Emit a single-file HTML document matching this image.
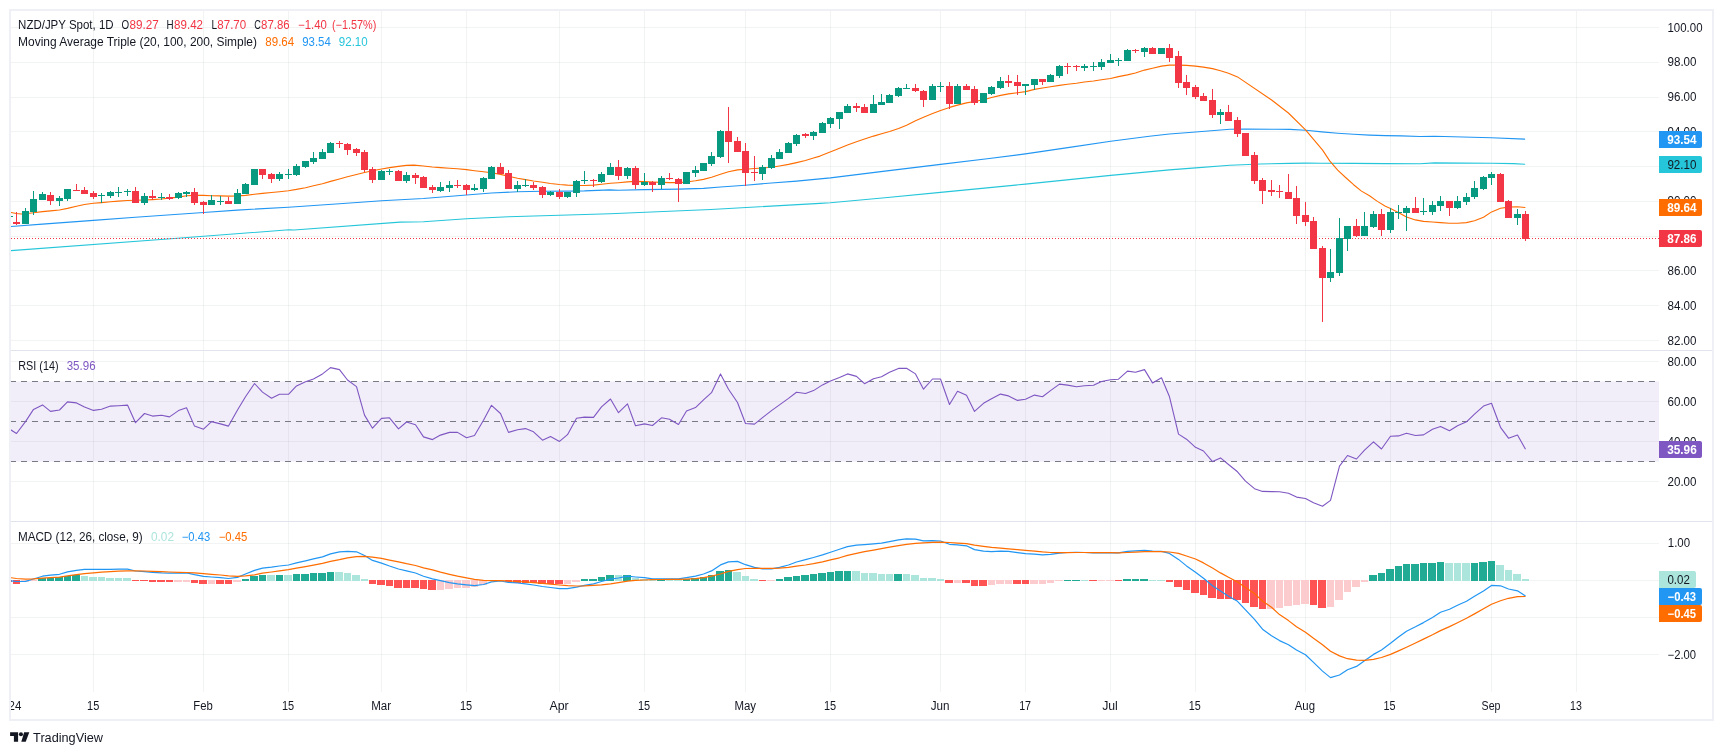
<!DOCTYPE html>
<html lang="en"><head><meta charset="utf-8"><title>NZD/JPY chart</title><style>html,body{margin:0;padding:0;background:#fff;overflow:hidden}svg{display:block;will-change:transform}</style></head><body>
<svg width="1723" height="755" viewBox="0 0 1723 755" font-family="Liberation Sans, Arial, sans-serif" font-size="12">
<rect width="1723" height="755" fill="#fff"/>
<rect x="10" y="10" width="1703" height="710" fill="none" stroke="#eef0f6" stroke-width="2"/>
<g fill="rgba(42,46,57,0.06)" shape-rendering="crispEdges">
<rect x="93" y="11" width="1" height="681"/>
<rect x="203" y="11" width="1" height="681"/>
<rect x="288" y="11" width="1" height="681"/>
<rect x="381" y="11" width="1" height="681"/>
<rect x="466" y="11" width="1" height="681"/>
<rect x="559" y="11" width="1" height="681"/>
<rect x="644" y="11" width="1" height="681"/>
<rect x="745" y="11" width="1" height="681"/>
<rect x="830" y="11" width="1" height="681"/>
<rect x="940" y="11" width="1" height="681"/>
<rect x="1025" y="11" width="1" height="681"/>
<rect x="1110" y="11" width="1" height="681"/>
<rect x="1195" y="11" width="1" height="681"/>
<rect x="1305" y="11" width="1" height="681"/>
<rect x="1390" y="11" width="1" height="681"/>
<rect x="1491" y="11" width="1" height="681"/>
<rect x="1576" y="11" width="1" height="681"/>
<rect x="11" y="27" width="1648" height="1"/>
<rect x="11" y="62" width="1648" height="1"/>
<rect x="11" y="97" width="1648" height="1"/>
<rect x="11" y="131" width="1648" height="1"/>
<rect x="11" y="166" width="1648" height="1"/>
<rect x="11" y="201" width="1648" height="1"/>
<rect x="11" y="236" width="1648" height="1"/>
<rect x="11" y="270" width="1648" height="1"/>
<rect x="11" y="305" width="1648" height="1"/>
<rect x="11" y="340" width="1648" height="1"/>
<rect x="11" y="361" width="1648" height="1"/>
<rect x="11" y="401" width="1648" height="1"/>
<rect x="11" y="441" width="1648" height="1"/>
<rect x="11" y="481" width="1648" height="1"/>
<rect x="11" y="543" width="1648" height="1"/>
<rect x="11" y="580" width="1648" height="1"/>
<rect x="11" y="617" width="1648" height="1"/>
<rect x="11" y="654" width="1648" height="1"/>
</g>
<g fill="#e0e3eb" shape-rendering="crispEdges"><rect x="11" y="350" width="1701" height="1"/><rect x="11" y="521" width="1701" height="1"/></g>
<defs><clipPath id="cp"><rect x="11" y="11" width="1648" height="681"/></clipPath></defs>
<g clip-path="url(#cp)">
<polyline points="10.4,250.7 174.1,238.5 289.0,229.8 294.1,230.0 400.0,222.1 423.4,221.7 466.5,218.8 508.4,216.8 559.5,215.2 610.0,213.7 710.9,209.5 820.0,203.4 830.4,202.8 884.9,197.8 940.5,192.4 1025.4,184.1 1110.7,175.4 1169.4,169.9 1195.6,167.9 1230.0,165.2 1260.7,164.0 1290.0,163.4 1305.9,163.1 1321.8,163.2 1353.6,163.4 1385.4,163.6 1420.0,163.7 1434.4,162.9 1491.3,163.2 1513.6,163.6 1524.7,164.3" fill="none" stroke="#26c6da" stroke-width="1.1" stroke-linejoin="round" stroke-linecap="round"/>
<polyline points="10.1,226.5 42.4,224.1 93.4,220.4 135.4,217.2 178.3,214.2 203.5,212.5 237.4,210.1 288.4,207.2 339.4,203.7 381.6,200.8 423.4,198.5 466.5,195.0 491.5,193.0 517.5,191.8 542.5,191.3 567.4,191.1 584.5,190.9 610.0,189.9 618.4,190.3 644.6,189.6 678.6,189.1 703.5,188.4 720.5,187.0 745.4,185.2 771.5,183.0 796.6,181.1 830.4,177.9 884.9,171.1 940.5,164.4 987.2,158.7 1025.4,153.9 1069.5,147.4 1110.7,141.2 1149.4,136.2 1169.4,134.0 1195.6,132.0 1230.0,129.2 1245.5,129.0 1276.0,129.3 1290.0,129.4 1305.9,130.3 1321.8,131.9 1337.7,133.2 1353.6,134.3 1369.5,135.1 1385.4,135.6 1401.3,135.9 1420.0,136.5 1434.4,136.2 1491.3,137.7 1524.7,139.1" fill="none" stroke="#2196f3" stroke-width="1.1" stroke-linejoin="round" stroke-linecap="round"/>
<polyline points="10.1,212.4 16.4,213.5 21.2,214.0 25.4,213.8 33.6,212.7 42.5,211.6 50.5,210.9 59.4,210.0 67.5,208.4 76.5,206.2 84.4,204.5 93.4,203.2 101.5,202.6 110.5,201.8 118.4,201.1 127.4,200.5 135.4,200.3 144.4,200.0 152.5,199.6 161.4,199.0 169.4,198.1 178.3,197.1 186.6,195.7 194.4,195.4 203.5,195.4 211.5,195.7 220.3,195.9 228.5,196.1 237.4,195.9 245.6,195.4 254.5,194.3 262.5,193.4 271.5,192.5 279.5,191.7 288.4,190.7 296.4,189.4 305.5,187.7 313.5,185.8 322.4,183.7 330.6,181.4 339.4,179.0 347.4,176.7 356.5,174.5 364.5,172.5 372.5,170.7 381.6,169.0 389.6,167.6 398.4,166.4 406.4,165.4 414.0,165.1 423.4,166.0 432.3,167.0 440.5,167.6 449.4,168.2 457.4,168.7 466.5,169.6 474.5,170.7 483.5,171.8 491.5,172.8 500.5,174.4 508.4,176.3 517.5,178.3 525.5,179.6 533.5,181.0 542.5,182.3 550.5,183.5 559.5,184.5 567.4,185.1 576.5,185.5 584.5,185.5 593.6,185.1 601.6,184.3 610.4,183.3 618.4,182.7 627.4,181.9 635.4,181.4 644.6,181.6 652.5,182.0 661.5,182.4 669.5,182.6 678.6,182.6 686.4,182.0 695.5,180.8 703.5,179.4 711.6,177.2 720.5,174.3 728.5,171.7 737.6,169.9 745.4,169.2 754.6,168.5 762.5,168.0 771.5,167.3 779.5,166.0 788.5,164.4 796.6,162.6 805.4,160.5 813.5,158.0 820.0,156.1 836.4,149.5 847.5,144.9 856.5,141.7 864.5,139.1 873.6,136.1 881.6,133.7 889.6,131.5 898.6,128.6 906.6,125.2 915.5,120.8 923.5,117.2 932.6,113.6 940.6,110.4 949.5,107.4 957.5,105.1 966.5,102.9 974.5,101.5 983.5,99.7 991.6,97.5 1000.6,95.4 1008.6,93.9 1017.5,92.7 1025.6,91.6 1034.5,89.4 1042.5,88.0 1050.5,86.8 1059.5,85.4 1067.5,84.3 1076.4,83.2 1084.4,82.0 1093.5,81.0 1101.5,79.8 1110.5,78.5 1118.5,76.6 1127.4,74.9 1135.4,73.0 1144.5,70.1 1152.5,68.2 1161.5,66.1 1169.5,65.1 1178.5,65.1 1186.5,65.4 1195.4,66.1 1203.4,67.1 1212.5,68.6 1220.5,70.8 1228.5,73.3 1237.5,76.9 1271.6,100.0 1288.4,113.0 1305.3,129.7 1322.6,150.1 1329.7,160.9 1337.7,170.1 1345.6,177.5 1353.6,184.7 1361.5,191.1 1369.5,195.8 1377.4,201.4 1385.4,206.2 1390.0,208.3 1398.3,212.5 1406.5,217.0 1415.4,219.9 1423.5,221.4 1432.4,222.0 1440.4,222.6 1449.4,223.2 1457.5,223.3 1466.4,222.6 1474.5,220.8 1483.5,217.2 1491.6,211.9 1500.5,208.3 1508.5,207.1 1517.5,206.7 1525.0,207.5" fill="none" stroke="#ff6d00" stroke-width="1.1" stroke-linejoin="round" stroke-linecap="round"/>
<line x1="11" y1="238.5" x2="1659" y2="238.5" stroke="#f23645" stroke-width="1" stroke-dasharray="1 2"/>
<g shape-rendering="crispEdges">
<rect x="11" y="216" width="2" height="1" fill="#089981"/>
<rect x="16" y="212" width="1" height="13" fill="#f23645"/>
<rect x="13" y="222" width="7" height="2" fill="#f23645"/>
<rect x="25" y="208" width="1" height="16" fill="#089981"/>
<rect x="22" y="211" width="7" height="13" fill="#089981"/>
<rect x="33" y="191" width="1" height="24" fill="#089981"/>
<rect x="30" y="199" width="7" height="13" fill="#089981"/>
<rect x="42" y="192" width="1" height="8" fill="#089981"/>
<rect x="39" y="194" width="7" height="6" fill="#089981"/>
<rect x="50" y="192" width="1" height="13" fill="#f23645"/>
<rect x="47" y="195" width="7" height="6" fill="#f23645"/>
<rect x="59" y="196" width="1" height="10" fill="#089981"/>
<rect x="56" y="198" width="7" height="3" fill="#089981"/>
<rect x="67" y="189" width="1" height="12" fill="#089981"/>
<rect x="64" y="189" width="7" height="10" fill="#089981"/>
<rect x="76" y="184" width="1" height="7" fill="#f23645"/>
<rect x="73" y="190" width="7" height="1" fill="#f23645"/>
<rect x="84" y="187" width="1" height="7" fill="#f23645"/>
<rect x="81" y="190" width="7" height="4" fill="#f23645"/>
<rect x="93" y="191" width="1" height="8" fill="#f23645"/>
<rect x="90" y="193" width="7" height="4" fill="#f23645"/>
<rect x="101" y="193" width="1" height="10" fill="#089981"/>
<rect x="98" y="195" width="7" height="1" fill="#089981"/>
<rect x="110" y="191" width="1" height="7" fill="#089981"/>
<rect x="107" y="192" width="7" height="4" fill="#089981"/>
<rect x="118" y="187" width="1" height="10" fill="#089981"/>
<rect x="115" y="192" width="7" height="1" fill="#089981"/>
<rect x="127" y="189" width="1" height="7" fill="#089981"/>
<rect x="124" y="191" width="7" height="1" fill="#089981"/>
<rect x="135" y="187" width="1" height="16" fill="#f23645"/>
<rect x="132" y="191" width="7" height="12" fill="#f23645"/>
<rect x="144" y="193" width="1" height="12" fill="#089981"/>
<rect x="141" y="196" width="7" height="7" fill="#089981"/>
<rect x="152" y="190" width="1" height="10" fill="#f23645"/>
<rect x="149" y="196" width="7" height="2" fill="#f23645"/>
<rect x="161" y="193" width="1" height="7" fill="#089981"/>
<rect x="158" y="197" width="7" height="1" fill="#089981"/>
<rect x="169" y="194" width="1" height="6" fill="#f23645"/>
<rect x="166" y="197" width="7" height="2" fill="#f23645"/>
<rect x="178" y="192" width="1" height="7" fill="#089981"/>
<rect x="175" y="193" width="7" height="5" fill="#089981"/>
<rect x="186" y="191" width="1" height="6" fill="#089981"/>
<rect x="183" y="192" width="7" height="2" fill="#089981"/>
<rect x="194" y="188" width="1" height="17" fill="#f23645"/>
<rect x="191" y="192" width="7" height="11" fill="#f23645"/>
<rect x="203" y="201" width="1" height="13" fill="#f23645"/>
<rect x="200" y="202" width="7" height="3" fill="#f23645"/>
<rect x="211" y="195" width="1" height="10" fill="#089981"/>
<rect x="208" y="200" width="7" height="5" fill="#089981"/>
<rect x="220" y="196" width="1" height="9" fill="#089981"/>
<rect x="217" y="201" width="7" height="1" fill="#089981"/>
<rect x="228" y="197" width="1" height="7" fill="#f23645"/>
<rect x="225" y="201" width="7" height="3" fill="#f23645"/>
<rect x="237" y="189" width="1" height="15" fill="#089981"/>
<rect x="234" y="193" width="7" height="11" fill="#089981"/>
<rect x="245" y="183" width="1" height="11" fill="#089981"/>
<rect x="242" y="184" width="7" height="10" fill="#089981"/>
<rect x="251" y="169" width="7" height="16" fill="#089981"/>
<rect x="262" y="169" width="1" height="10" fill="#f23645"/>
<rect x="259" y="169" width="7" height="6" fill="#f23645"/>
<rect x="271" y="173" width="1" height="10" fill="#f23645"/>
<rect x="268" y="174" width="7" height="5" fill="#f23645"/>
<rect x="279" y="172" width="1" height="9" fill="#089981"/>
<rect x="276" y="174" width="7" height="5" fill="#089981"/>
<rect x="288" y="169" width="1" height="10" fill="#089981"/>
<rect x="285" y="174" width="7" height="1" fill="#089981"/>
<rect x="296" y="164" width="1" height="12" fill="#089981"/>
<rect x="293" y="166" width="7" height="9" fill="#089981"/>
<rect x="305" y="161" width="1" height="7" fill="#089981"/>
<rect x="302" y="161" width="7" height="6" fill="#089981"/>
<rect x="313" y="152" width="1" height="12" fill="#089981"/>
<rect x="310" y="158" width="7" height="4" fill="#089981"/>
<rect x="322" y="149" width="1" height="10" fill="#089981"/>
<rect x="319" y="152" width="7" height="7" fill="#089981"/>
<rect x="330" y="142" width="1" height="11" fill="#089981"/>
<rect x="327" y="143" width="7" height="10" fill="#089981"/>
<rect x="339" y="141" width="1" height="7" fill="#f23645"/>
<rect x="336" y="143" width="7" height="1" fill="#f23645"/>
<rect x="347" y="143" width="1" height="12" fill="#f23645"/>
<rect x="344" y="144" width="7" height="6" fill="#f23645"/>
<rect x="356" y="148" width="1" height="8" fill="#f23645"/>
<rect x="353" y="149" width="7" height="4" fill="#f23645"/>
<rect x="364" y="150" width="1" height="22" fill="#f23645"/>
<rect x="361" y="152" width="7" height="18" fill="#f23645"/>
<rect x="372" y="167" width="1" height="16" fill="#f23645"/>
<rect x="369" y="169" width="7" height="11" fill="#f23645"/>
<rect x="381" y="170" width="1" height="10" fill="#089981"/>
<rect x="378" y="171" width="7" height="9" fill="#089981"/>
<rect x="389" y="169" width="1" height="6" fill="#089981"/>
<rect x="386" y="171" width="7" height="1" fill="#089981"/>
<rect x="398" y="170" width="1" height="11" fill="#f23645"/>
<rect x="395" y="171" width="7" height="10" fill="#f23645"/>
<rect x="406" y="172" width="1" height="11" fill="#089981"/>
<rect x="403" y="175" width="7" height="6" fill="#089981"/>
<rect x="415" y="173" width="1" height="11" fill="#f23645"/>
<rect x="412" y="175" width="7" height="3" fill="#f23645"/>
<rect x="423" y="176" width="1" height="12" fill="#f23645"/>
<rect x="420" y="177" width="7" height="11" fill="#f23645"/>
<rect x="432" y="185" width="1" height="8" fill="#f23645"/>
<rect x="429" y="187" width="7" height="3" fill="#f23645"/>
<rect x="440" y="182" width="1" height="10" fill="#089981"/>
<rect x="437" y="187" width="7" height="4" fill="#089981"/>
<rect x="449" y="181" width="1" height="11" fill="#089981"/>
<rect x="446" y="185" width="7" height="3" fill="#089981"/>
<rect x="457" y="180" width="1" height="8" fill="#f23645"/>
<rect x="454" y="185" width="7" height="1" fill="#f23645"/>
<rect x="466" y="184" width="1" height="11" fill="#f23645"/>
<rect x="463" y="185" width="7" height="5" fill="#f23645"/>
<rect x="474" y="184" width="1" height="7" fill="#089981"/>
<rect x="471" y="188" width="7" height="2" fill="#089981"/>
<rect x="483" y="177" width="1" height="15" fill="#089981"/>
<rect x="480" y="178" width="7" height="11" fill="#089981"/>
<rect x="491" y="166" width="1" height="13" fill="#089981"/>
<rect x="488" y="167" width="7" height="12" fill="#089981"/>
<rect x="500" y="163" width="1" height="11" fill="#f23645"/>
<rect x="497" y="167" width="7" height="7" fill="#f23645"/>
<rect x="508" y="170" width="1" height="19" fill="#f23645"/>
<rect x="505" y="173" width="7" height="16" fill="#f23645"/>
<rect x="517" y="181" width="1" height="11" fill="#089981"/>
<rect x="514" y="185" width="7" height="4" fill="#089981"/>
<rect x="525" y="179" width="1" height="8" fill="#089981"/>
<rect x="522" y="185" width="7" height="1" fill="#089981"/>
<rect x="533" y="182" width="1" height="8" fill="#f23645"/>
<rect x="530" y="185" width="7" height="3" fill="#f23645"/>
<rect x="542" y="186" width="1" height="12" fill="#f23645"/>
<rect x="539" y="187" width="7" height="8" fill="#f23645"/>
<rect x="550" y="191" width="1" height="5" fill="#089981"/>
<rect x="547" y="192" width="7" height="3" fill="#089981"/>
<rect x="559" y="189" width="1" height="10" fill="#f23645"/>
<rect x="556" y="192" width="7" height="5" fill="#f23645"/>
<rect x="567" y="192" width="1" height="6" fill="#089981"/>
<rect x="564" y="192" width="7" height="5" fill="#089981"/>
<rect x="576" y="180" width="1" height="17" fill="#089981"/>
<rect x="573" y="181" width="7" height="12" fill="#089981"/>
<rect x="584" y="171" width="1" height="13" fill="#089981"/>
<rect x="581" y="180" width="7" height="1" fill="#089981"/>
<rect x="593" y="179" width="1" height="8" fill="#f23645"/>
<rect x="590" y="180" width="7" height="1" fill="#f23645"/>
<rect x="601" y="172" width="1" height="11" fill="#089981"/>
<rect x="598" y="174" width="7" height="8" fill="#089981"/>
<rect x="610" y="163" width="1" height="12" fill="#089981"/>
<rect x="607" y="167" width="7" height="8" fill="#089981"/>
<rect x="618" y="160" width="1" height="20" fill="#f23645"/>
<rect x="615" y="167" width="7" height="9" fill="#f23645"/>
<rect x="627" y="167" width="1" height="12" fill="#089981"/>
<rect x="624" y="168" width="7" height="8" fill="#089981"/>
<rect x="635" y="166" width="1" height="23" fill="#f23645"/>
<rect x="632" y="168" width="7" height="17" fill="#f23645"/>
<rect x="644" y="173" width="1" height="13" fill="#089981"/>
<rect x="641" y="182" width="7" height="3" fill="#089981"/>
<rect x="652" y="181" width="1" height="11" fill="#f23645"/>
<rect x="649" y="182" width="7" height="3" fill="#f23645"/>
<rect x="661" y="176" width="1" height="13" fill="#089981"/>
<rect x="658" y="178" width="7" height="7" fill="#089981"/>
<rect x="669" y="173" width="1" height="7" fill="#f23645"/>
<rect x="666" y="178" width="7" height="1" fill="#f23645"/>
<rect x="678" y="178" width="1" height="24" fill="#f23645"/>
<rect x="675" y="179" width="7" height="5" fill="#f23645"/>
<rect x="683" y="172" width="7" height="12" fill="#089981"/>
<rect x="695" y="166" width="1" height="11" fill="#089981"/>
<rect x="692" y="170" width="7" height="3" fill="#089981"/>
<rect x="700" y="163" width="7" height="8" fill="#089981"/>
<rect x="711" y="152" width="1" height="14" fill="#089981"/>
<rect x="708" y="156" width="7" height="8" fill="#089981"/>
<rect x="720" y="130" width="1" height="28" fill="#089981"/>
<rect x="717" y="131" width="7" height="26" fill="#089981"/>
<rect x="728" y="107" width="1" height="56" fill="#f23645"/>
<rect x="725" y="131" width="7" height="11" fill="#f23645"/>
<rect x="737" y="137" width="1" height="15" fill="#f23645"/>
<rect x="734" y="141" width="7" height="11" fill="#f23645"/>
<rect x="745" y="143" width="1" height="43" fill="#f23645"/>
<rect x="742" y="151" width="7" height="22" fill="#f23645"/>
<rect x="754" y="156" width="1" height="25" fill="#f23645"/>
<rect x="751" y="172" width="7" height="1" fill="#f23645"/>
<rect x="762" y="165" width="1" height="15" fill="#089981"/>
<rect x="759" y="167" width="7" height="7" fill="#089981"/>
<rect x="771" y="155" width="1" height="14" fill="#089981"/>
<rect x="768" y="158" width="7" height="10" fill="#089981"/>
<rect x="779" y="149" width="1" height="10" fill="#089981"/>
<rect x="776" y="152" width="7" height="7" fill="#089981"/>
<rect x="788" y="142" width="1" height="11" fill="#089981"/>
<rect x="785" y="143" width="7" height="10" fill="#089981"/>
<rect x="796" y="134" width="1" height="12" fill="#089981"/>
<rect x="793" y="135" width="7" height="9" fill="#089981"/>
<rect x="805" y="133" width="1" height="5" fill="#f23645"/>
<rect x="802" y="134" width="7" height="2" fill="#f23645"/>
<rect x="813" y="131" width="1" height="9" fill="#089981"/>
<rect x="810" y="132" width="7" height="4" fill="#089981"/>
<rect x="822" y="122" width="1" height="11" fill="#089981"/>
<rect x="819" y="123" width="7" height="10" fill="#089981"/>
<rect x="830" y="117" width="1" height="11" fill="#089981"/>
<rect x="827" y="118" width="7" height="6" fill="#089981"/>
<rect x="839" y="112" width="1" height="17" fill="#089981"/>
<rect x="836" y="112" width="7" height="7" fill="#089981"/>
<rect x="847" y="104" width="1" height="9" fill="#089981"/>
<rect x="844" y="106" width="7" height="7" fill="#089981"/>
<rect x="856" y="103" width="1" height="9" fill="#f23645"/>
<rect x="853" y="106" width="7" height="2" fill="#f23645"/>
<rect x="864" y="104" width="1" height="9" fill="#f23645"/>
<rect x="861" y="107" width="7" height="6" fill="#f23645"/>
<rect x="873" y="95" width="1" height="18" fill="#089981"/>
<rect x="870" y="104" width="7" height="9" fill="#089981"/>
<rect x="881" y="94" width="1" height="11" fill="#089981"/>
<rect x="878" y="102" width="7" height="3" fill="#089981"/>
<rect x="889" y="94" width="1" height="9" fill="#089981"/>
<rect x="886" y="95" width="7" height="8" fill="#089981"/>
<rect x="898" y="87" width="1" height="10" fill="#089981"/>
<rect x="895" y="88" width="7" height="8" fill="#089981"/>
<rect x="906" y="84" width="1" height="5" fill="#089981"/>
<rect x="903" y="88" width="7" height="1" fill="#089981"/>
<rect x="915" y="84" width="1" height="8" fill="#f23645"/>
<rect x="912" y="88" width="7" height="3" fill="#f23645"/>
<rect x="923" y="90" width="1" height="17" fill="#f23645"/>
<rect x="920" y="91" width="7" height="9" fill="#f23645"/>
<rect x="932" y="84" width="1" height="16" fill="#089981"/>
<rect x="929" y="86" width="7" height="14" fill="#089981"/>
<rect x="940" y="82" width="1" height="10" fill="#089981"/>
<rect x="937" y="86" width="7" height="1" fill="#089981"/>
<rect x="949" y="82" width="1" height="27" fill="#f23645"/>
<rect x="946" y="86" width="7" height="18" fill="#f23645"/>
<rect x="957" y="84" width="1" height="20" fill="#089981"/>
<rect x="954" y="86" width="7" height="18" fill="#089981"/>
<rect x="966" y="84" width="1" height="6" fill="#f23645"/>
<rect x="963" y="86" width="7" height="4" fill="#f23645"/>
<rect x="974" y="86" width="1" height="19" fill="#f23645"/>
<rect x="971" y="89" width="7" height="14" fill="#f23645"/>
<rect x="980" y="93" width="7" height="10" fill="#089981"/>
<rect x="991" y="86" width="1" height="9" fill="#089981"/>
<rect x="988" y="87" width="7" height="7" fill="#089981"/>
<rect x="1000" y="77" width="1" height="12" fill="#089981"/>
<rect x="997" y="81" width="7" height="7" fill="#089981"/>
<rect x="1008" y="75" width="1" height="12" fill="#f23645"/>
<rect x="1005" y="81" width="7" height="2" fill="#f23645"/>
<rect x="1017" y="75" width="1" height="20" fill="#f23645"/>
<rect x="1014" y="82" width="7" height="4" fill="#f23645"/>
<rect x="1025" y="84" width="1" height="11" fill="#089981"/>
<rect x="1022" y="84" width="7" height="2" fill="#089981"/>
<rect x="1034" y="79" width="1" height="11" fill="#089981"/>
<rect x="1031" y="79" width="7" height="6" fill="#089981"/>
<rect x="1042" y="79" width="1" height="6" fill="#f23645"/>
<rect x="1039" y="79" width="7" height="3" fill="#f23645"/>
<rect x="1050" y="74" width="1" height="8" fill="#089981"/>
<rect x="1047" y="75" width="7" height="7" fill="#089981"/>
<rect x="1059" y="65" width="1" height="13" fill="#089981"/>
<rect x="1056" y="66" width="7" height="10" fill="#089981"/>
<rect x="1067" y="63" width="1" height="11" fill="#f23645"/>
<rect x="1064" y="66" width="7" height="1" fill="#f23645"/>
<rect x="1076" y="65" width="1" height="6" fill="#f23645"/>
<rect x="1073" y="66" width="7" height="1" fill="#f23645"/>
<rect x="1084" y="64" width="1" height="7" fill="#089981"/>
<rect x="1081" y="66" width="7" height="2" fill="#089981"/>
<rect x="1093" y="62" width="1" height="9" fill="#089981"/>
<rect x="1090" y="66" width="7" height="1" fill="#089981"/>
<rect x="1101" y="59" width="1" height="11" fill="#089981"/>
<rect x="1098" y="62" width="7" height="5" fill="#089981"/>
<rect x="1110" y="54" width="1" height="9" fill="#089981"/>
<rect x="1107" y="60" width="7" height="3" fill="#089981"/>
<rect x="1118" y="58" width="1" height="8" fill="#089981"/>
<rect x="1115" y="60" width="7" height="1" fill="#089981"/>
<rect x="1127" y="49" width="1" height="12" fill="#089981"/>
<rect x="1124" y="50" width="7" height="11" fill="#089981"/>
<rect x="1135" y="49" width="1" height="4" fill="#f23645"/>
<rect x="1132" y="50" width="7" height="1" fill="#f23645"/>
<rect x="1144" y="47" width="1" height="10" fill="#089981"/>
<rect x="1141" y="48" width="7" height="4" fill="#089981"/>
<rect x="1152" y="47" width="1" height="7" fill="#f23645"/>
<rect x="1149" y="48" width="7" height="6" fill="#f23645"/>
<rect x="1158" y="48" width="7" height="6" fill="#089981"/>
<rect x="1169" y="44" width="1" height="18" fill="#f23645"/>
<rect x="1166" y="48" width="7" height="10" fill="#f23645"/>
<rect x="1178" y="51" width="1" height="37" fill="#f23645"/>
<rect x="1175" y="56" width="7" height="27" fill="#f23645"/>
<rect x="1186" y="75" width="1" height="20" fill="#f23645"/>
<rect x="1183" y="82" width="7" height="6" fill="#f23645"/>
<rect x="1195" y="85" width="1" height="14" fill="#f23645"/>
<rect x="1192" y="87" width="7" height="10" fill="#f23645"/>
<rect x="1203" y="93" width="1" height="8" fill="#f23645"/>
<rect x="1200" y="96" width="7" height="5" fill="#f23645"/>
<rect x="1212" y="89" width="1" height="29" fill="#f23645"/>
<rect x="1209" y="100" width="7" height="15" fill="#f23645"/>
<rect x="1220" y="109" width="1" height="15" fill="#089981"/>
<rect x="1217" y="112" width="7" height="3" fill="#089981"/>
<rect x="1228" y="105" width="1" height="16" fill="#f23645"/>
<rect x="1225" y="112" width="7" height="9" fill="#f23645"/>
<rect x="1237" y="117" width="1" height="20" fill="#f23645"/>
<rect x="1234" y="120" width="7" height="14" fill="#f23645"/>
<rect x="1242" y="133" width="7" height="23" fill="#f23645"/>
<rect x="1254" y="152" width="1" height="32" fill="#f23645"/>
<rect x="1251" y="155" width="7" height="26" fill="#f23645"/>
<rect x="1262" y="178" width="1" height="26" fill="#f23645"/>
<rect x="1259" y="180" width="7" height="11" fill="#f23645"/>
<rect x="1271" y="180" width="1" height="16" fill="#f23645"/>
<rect x="1268" y="190" width="7" height="2" fill="#f23645"/>
<rect x="1279" y="185" width="1" height="13" fill="#f23645"/>
<rect x="1276" y="191" width="7" height="1" fill="#f23645"/>
<rect x="1288" y="174" width="1" height="25" fill="#f23645"/>
<rect x="1285" y="192" width="7" height="7" fill="#f23645"/>
<rect x="1296" y="186" width="1" height="38" fill="#f23645"/>
<rect x="1293" y="198" width="7" height="18" fill="#f23645"/>
<rect x="1305" y="202" width="1" height="24" fill="#f23645"/>
<rect x="1302" y="215" width="7" height="7" fill="#f23645"/>
<rect x="1313" y="217" width="1" height="32" fill="#f23645"/>
<rect x="1310" y="221" width="7" height="28" fill="#f23645"/>
<rect x="1322" y="246" width="1" height="76" fill="#f23645"/>
<rect x="1319" y="248" width="7" height="30" fill="#f23645"/>
<rect x="1330" y="249" width="1" height="33" fill="#089981"/>
<rect x="1327" y="272" width="7" height="6" fill="#089981"/>
<rect x="1339" y="218" width="1" height="58" fill="#089981"/>
<rect x="1336" y="238" width="7" height="35" fill="#089981"/>
<rect x="1347" y="226" width="1" height="25" fill="#089981"/>
<rect x="1344" y="226" width="7" height="13" fill="#089981"/>
<rect x="1356" y="219" width="1" height="18" fill="#f23645"/>
<rect x="1353" y="226" width="7" height="10" fill="#f23645"/>
<rect x="1364" y="212" width="1" height="24" fill="#089981"/>
<rect x="1361" y="226" width="7" height="10" fill="#089981"/>
<rect x="1373" y="211" width="1" height="17" fill="#089981"/>
<rect x="1370" y="214" width="7" height="13" fill="#089981"/>
<rect x="1381" y="209" width="1" height="27" fill="#f23645"/>
<rect x="1378" y="214" width="7" height="16" fill="#f23645"/>
<rect x="1390" y="208" width="1" height="25" fill="#089981"/>
<rect x="1387" y="212" width="7" height="18" fill="#089981"/>
<rect x="1398" y="205" width="1" height="14" fill="#089981"/>
<rect x="1395" y="212" width="7" height="1" fill="#089981"/>
<rect x="1406" y="206" width="1" height="25" fill="#089981"/>
<rect x="1403" y="208" width="7" height="5" fill="#089981"/>
<rect x="1415" y="197" width="1" height="16" fill="#f23645"/>
<rect x="1412" y="208" width="7" height="5" fill="#f23645"/>
<rect x="1423" y="198" width="1" height="17" fill="#089981"/>
<rect x="1420" y="211" width="7" height="1" fill="#089981"/>
<rect x="1432" y="201" width="1" height="14" fill="#089981"/>
<rect x="1429" y="205" width="7" height="7" fill="#089981"/>
<rect x="1440" y="196" width="1" height="15" fill="#089981"/>
<rect x="1437" y="201" width="7" height="5" fill="#089981"/>
<rect x="1449" y="201" width="1" height="15" fill="#f23645"/>
<rect x="1446" y="201" width="7" height="7" fill="#f23645"/>
<rect x="1457" y="196" width="1" height="13" fill="#089981"/>
<rect x="1454" y="201" width="7" height="7" fill="#089981"/>
<rect x="1466" y="193" width="1" height="12" fill="#089981"/>
<rect x="1463" y="197" width="7" height="5" fill="#089981"/>
<rect x="1474" y="181" width="1" height="18" fill="#089981"/>
<rect x="1471" y="188" width="7" height="9" fill="#089981"/>
<rect x="1483" y="176" width="1" height="14" fill="#089981"/>
<rect x="1480" y="177" width="7" height="12" fill="#089981"/>
<rect x="1491" y="172" width="1" height="13" fill="#089981"/>
<rect x="1488" y="174" width="7" height="4" fill="#089981"/>
<rect x="1500" y="173" width="1" height="29" fill="#f23645"/>
<rect x="1497" y="174" width="7" height="28" fill="#f23645"/>
<rect x="1508" y="200" width="1" height="18" fill="#f23645"/>
<rect x="1505" y="201" width="7" height="17" fill="#f23645"/>
<rect x="1517" y="209" width="1" height="16" fill="#089981"/>
<rect x="1514" y="214" width="7" height="4" fill="#089981"/>
<rect x="1525" y="211" width="1" height="30" fill="#f23645"/>
<rect x="1522" y="214" width="7" height="25" fill="#f23645"/>
</g>
<rect x="11" y="381.5" width="1648" height="80" fill="#7e57c2" fill-opacity="0.1"/>
<line x1="10" y1="381.5" x2="1659" y2="381.5" stroke="#787b86" stroke-width="1" stroke-dasharray="6 5"/>
<line x1="10" y1="421.5" x2="1659" y2="421.5" stroke="#787b86" stroke-width="1" stroke-dasharray="6 5"/>
<line x1="10" y1="461.5" x2="1659" y2="461.5" stroke="#787b86" stroke-width="1" stroke-dasharray="6 5"/>
<polyline points="8.5,428.4 16.5,433.5 25.5,421.6 33.5,409.4 42.5,404.9 50.5,411.4 59.5,410.0 67.5,401.9 76.5,402.9 84.5,406.9 93.5,410.4 101.5,409.2 110.5,406.1 118.5,405.7 127.5,405.1 135.5,422.7 144.5,413.5 152.5,416.1 161.5,415.3 169.5,416.9 178.5,410.6 186.5,407.8 194.5,426.1 203.5,429.2 211.5,421.6 220.5,423.9 228.5,426.1 237.5,410.0 245.5,396.8 254.5,383.5 262.5,392.1 271.5,398.2 279.5,394.3 288.5,394.3 296.5,385.9 305.5,381.7 313.5,379.0 322.5,373.9 330.5,367.6 339.5,369.6 347.5,380.0 356.5,386.6 364.5,415.1 372.5,428.2 381.5,418.4 389.5,417.8 398.5,428.8 406.5,422.0 415.5,424.7 423.5,436.9 432.5,439.6 440.5,435.1 449.5,432.4 457.5,432.4 466.5,437.7 474.5,435.5 483.5,420.2 491.5,405.3 500.5,413.5 508.5,432.4 517.5,429.8 525.5,428.6 533.5,431.8 542.5,440.2 550.5,436.5 559.5,441.4 567.5,434.7 576.5,418.2 584.5,417.1 593.5,417.4 601.5,406.9 610.5,399.0 618.5,412.7 627.5,403.9 635.5,425.7 644.5,423.9 652.5,425.5 661.5,417.8 669.5,419.2 678.5,424.5 686.5,411.0 695.5,407.6 703.5,399.8 711.5,392.7 720.5,373.9 728.5,389.2 737.5,402.5 745.5,423.5 754.5,424.1 762.5,417.6 771.5,410.6 779.5,404.9 788.5,398.4 796.5,392.3 805.5,393.5 813.5,390.6 822.5,384.9 830.5,381.0 839.5,377.6 847.5,373.9 856.5,376.4 864.5,383.7 873.5,378.8 881.5,376.8 889.5,372.3 898.5,368.4 906.5,368.2 915.5,373.9 923.5,389.2 932.5,379.0 940.5,379.0 949.5,404.5 957.5,391.2 966.5,395.3 974.5,411.4 983.5,403.3 991.5,398.8 1000.5,394.1 1008.5,395.9 1017.5,400.4 1025.5,399.2 1034.5,395.1 1042.5,396.8 1050.5,390.6 1059.5,384.1 1067.5,385.1 1076.5,386.8 1084.5,385.7 1093.5,385.3 1101.5,381.5 1110.5,379.8 1118.5,379.2 1127.5,371.1 1135.5,372.3 1144.5,369.6 1152.5,382.9 1161.5,377.8 1169.5,396.8 1178.5,434.1 1186.5,439.2 1195.5,447.3 1203.5,451.0 1212.5,461.6 1220.5,457.9 1228.5,464.5 1237.5,471.8 1245.5,481.2 1254.5,488.7 1262.5,491.4 1271.5,491.6 1279.5,491.8 1288.5,493.2 1296.5,497.1 1305.5,498.5 1313.5,502.8 1322.5,506.3 1330.5,500.4 1339.5,466.1 1347.5,455.5 1356.5,459.0 1364.5,450.2 1373.5,441.8 1381.5,449.0 1390.5,436.3 1398.5,435.9 1406.5,433.3 1415.5,435.5 1423.5,434.9 1432.5,429.2 1440.5,426.5 1449.5,430.8 1457.5,425.7 1466.5,421.8 1474.5,414.1 1483.5,406.1 1491.5,403.3 1500.5,427.3 1508.5,438.2 1517.5,435.1 1525.5,449.2" fill="none" stroke="#7e57c2" stroke-width="1.1" stroke-linejoin="round"/>
<g shape-rendering="crispEdges">
<rect x="11" y="580" width="1" height="2" fill="#ff5252"/>
<rect x="13" y="580" width="7" height="4" fill="#ff5252"/>
<rect x="21" y="580" width="8" height="2" fill="#fccbcd"/>
<rect x="30" y="580" width="7" height="1" fill="#fccbcd"/>
<rect x="38" y="578" width="8" height="3" fill="#22ab94"/>
<rect x="47" y="578" width="7" height="3" fill="#22ab94"/>
<rect x="55" y="577" width="8" height="4" fill="#22ab94"/>
<rect x="64" y="576" width="7" height="5" fill="#22ab94"/>
<rect x="72" y="575" width="8" height="6" fill="#22ab94"/>
<rect x="81" y="576" width="7" height="5" fill="#ace5dc"/>
<rect x="89" y="577" width="8" height="4" fill="#ace5dc"/>
<rect x="98" y="577" width="7" height="4" fill="#ace5dc"/>
<rect x="106" y="578" width="8" height="3" fill="#ace5dc"/>
<rect x="115" y="578" width="7" height="3" fill="#ace5dc"/>
<rect x="123" y="578" width="8" height="3" fill="#ace5dc"/>
<rect x="132" y="580" width="7" height="1" fill="#ff5252"/>
<rect x="140" y="580" width="8" height="1" fill="#ff5252"/>
<rect x="149" y="580" width="7" height="2" fill="#ff5252"/>
<rect x="157" y="580" width="8" height="2" fill="#ff5252"/>
<rect x="166" y="580" width="7" height="2" fill="#ff5252"/>
<rect x="174" y="580" width="8" height="2" fill="#fccbcd"/>
<rect x="183" y="580" width="7" height="2" fill="#fccbcd"/>
<rect x="191" y="580" width="7" height="3" fill="#ff5252"/>
<rect x="199" y="580" width="8" height="4" fill="#ff5252"/>
<rect x="208" y="580" width="7" height="4" fill="#fccbcd"/>
<rect x="216" y="580" width="8" height="4" fill="#ff5252"/>
<rect x="225" y="580" width="7" height="4" fill="#ff5252"/>
<rect x="233" y="580" width="8" height="2" fill="#fccbcd"/>
<rect x="242" y="579" width="7" height="2" fill="#22ab94"/>
<rect x="250" y="576" width="8" height="5" fill="#22ab94"/>
<rect x="259" y="575" width="7" height="6" fill="#22ab94"/>
<rect x="267" y="575" width="8" height="6" fill="#ace5dc"/>
<rect x="276" y="575" width="7" height="6" fill="#22ab94"/>
<rect x="284" y="575" width="8" height="6" fill="#ace5dc"/>
<rect x="293" y="574" width="7" height="7" fill="#22ab94"/>
<rect x="301" y="574" width="8" height="7" fill="#22ab94"/>
<rect x="310" y="573" width="7" height="8" fill="#22ab94"/>
<rect x="318" y="573" width="8" height="8" fill="#22ab94"/>
<rect x="327" y="572" width="7" height="9" fill="#22ab94"/>
<rect x="335" y="572" width="8" height="9" fill="#ace5dc"/>
<rect x="344" y="573" width="7" height="8" fill="#ace5dc"/>
<rect x="352" y="575" width="8" height="6" fill="#ace5dc"/>
<rect x="361" y="579" width="7" height="2" fill="#ace5dc"/>
<rect x="369" y="580" width="7" height="4" fill="#ff5252"/>
<rect x="377" y="580" width="8" height="5" fill="#ff5252"/>
<rect x="386" y="580" width="7" height="6" fill="#ff5252"/>
<rect x="394" y="580" width="8" height="8" fill="#ff5252"/>
<rect x="403" y="580" width="7" height="8" fill="#ff5252"/>
<rect x="411" y="580" width="8" height="8" fill="#ff5252"/>
<rect x="420" y="580" width="7" height="9" fill="#ff5252"/>
<rect x="428" y="580" width="8" height="10" fill="#ff5252"/>
<rect x="437" y="580" width="7" height="10" fill="#fccbcd"/>
<rect x="445" y="580" width="8" height="9" fill="#fccbcd"/>
<rect x="454" y="580" width="7" height="8" fill="#fccbcd"/>
<rect x="462" y="580" width="8" height="8" fill="#fccbcd"/>
<rect x="471" y="580" width="7" height="7" fill="#fccbcd"/>
<rect x="479" y="580" width="8" height="5" fill="#fccbcd"/>
<rect x="488" y="580" width="7" height="1" fill="#fccbcd"/>
<rect x="496" y="580" width="8" height="1" fill="#fccbcd"/>
<rect x="505" y="580" width="7" height="2" fill="#ff5252"/>
<rect x="513" y="580" width="8" height="3" fill="#ff5252"/>
<rect x="522" y="580" width="7" height="3" fill="#ff5252"/>
<rect x="530" y="580" width="7" height="3" fill="#ff5252"/>
<rect x="538" y="580" width="8" height="4" fill="#ff5252"/>
<rect x="547" y="580" width="7" height="4" fill="#ff5252"/>
<rect x="555" y="580" width="8" height="4" fill="#ff5252"/>
<rect x="564" y="580" width="7" height="4" fill="#fccbcd"/>
<rect x="572" y="580" width="8" height="2" fill="#fccbcd"/>
<rect x="581" y="579" width="7" height="2" fill="#22ab94"/>
<rect x="589" y="579" width="8" height="2" fill="#22ab94"/>
<rect x="598" y="577" width="7" height="4" fill="#22ab94"/>
<rect x="606" y="575" width="8" height="6" fill="#22ab94"/>
<rect x="615" y="575" width="7" height="6" fill="#ace5dc"/>
<rect x="623" y="575" width="8" height="6" fill="#22ab94"/>
<rect x="632" y="578" width="7" height="3" fill="#ace5dc"/>
<rect x="640" y="579" width="8" height="2" fill="#ace5dc"/>
<rect x="649" y="580" width="7" height="1" fill="#ace5dc"/>
<rect x="657" y="579" width="8" height="2" fill="#22ab94"/>
<rect x="666" y="580" width="7" height="1" fill="#ace5dc"/>
<rect x="674" y="580" width="8" height="1" fill="#ace5dc"/>
<rect x="683" y="579" width="7" height="2" fill="#22ab94"/>
<rect x="691" y="578" width="8" height="3" fill="#22ab94"/>
<rect x="700" y="577" width="7" height="4" fill="#22ab94"/>
<rect x="708" y="575" width="7" height="6" fill="#22ab94"/>
<rect x="716" y="571" width="8" height="10" fill="#22ab94"/>
<rect x="725" y="570" width="7" height="11" fill="#22ab94"/>
<rect x="733" y="572" width="8" height="9" fill="#ace5dc"/>
<rect x="742" y="576" width="7" height="5" fill="#ace5dc"/>
<rect x="750" y="579" width="8" height="2" fill="#ace5dc"/>
<rect x="759" y="580" width="7" height="1" fill="#ff5252"/>
<rect x="767" y="580" width="8" height="1" fill="#fccbcd"/>
<rect x="776" y="579" width="7" height="2" fill="#22ab94"/>
<rect x="784" y="577" width="8" height="4" fill="#22ab94"/>
<rect x="793" y="576" width="7" height="5" fill="#22ab94"/>
<rect x="801" y="575" width="8" height="6" fill="#22ab94"/>
<rect x="810" y="574" width="7" height="7" fill="#22ab94"/>
<rect x="818" y="573" width="8" height="8" fill="#22ab94"/>
<rect x="827" y="572" width="7" height="9" fill="#22ab94"/>
<rect x="835" y="571" width="8" height="10" fill="#22ab94"/>
<rect x="844" y="571" width="7" height="10" fill="#22ab94"/>
<rect x="852" y="571" width="8" height="10" fill="#ace5dc"/>
<rect x="861" y="573" width="7" height="8" fill="#ace5dc"/>
<rect x="869" y="573" width="8" height="8" fill="#ace5dc"/>
<rect x="878" y="574" width="7" height="7" fill="#ace5dc"/>
<rect x="886" y="574" width="7" height="7" fill="#ace5dc"/>
<rect x="894" y="574" width="8" height="7" fill="#22ab94"/>
<rect x="903" y="574" width="7" height="7" fill="#ace5dc"/>
<rect x="911" y="575" width="8" height="6" fill="#ace5dc"/>
<rect x="920" y="578" width="7" height="3" fill="#ace5dc"/>
<rect x="928" y="578" width="8" height="3" fill="#ace5dc"/>
<rect x="937" y="579" width="7" height="2" fill="#ace5dc"/>
<rect x="945" y="580" width="8" height="3" fill="#ff5252"/>
<rect x="954" y="580" width="7" height="3" fill="#fccbcd"/>
<rect x="962" y="580" width="8" height="3" fill="#ff5252"/>
<rect x="971" y="580" width="7" height="6" fill="#ff5252"/>
<rect x="979" y="580" width="8" height="6" fill="#ff5252"/>
<rect x="988" y="580" width="7" height="5" fill="#fccbcd"/>
<rect x="996" y="580" width="8" height="4" fill="#fccbcd"/>
<rect x="1005" y="580" width="7" height="4" fill="#fccbcd"/>
<rect x="1013" y="580" width="8" height="4" fill="#ff5252"/>
<rect x="1022" y="580" width="7" height="4" fill="#ff5252"/>
<rect x="1030" y="580" width="8" height="4" fill="#fccbcd"/>
<rect x="1039" y="580" width="7" height="4" fill="#fccbcd"/>
<rect x="1047" y="580" width="7" height="3" fill="#fccbcd"/>
<rect x="1055" y="580" width="8" height="1" fill="#fccbcd"/>
<rect x="1064" y="580" width="7" height="1" fill="#22ab94"/>
<rect x="1072" y="580" width="8" height="1" fill="#22ab94"/>
<rect x="1081" y="580" width="7" height="1" fill="#ace5dc"/>
<rect x="1089" y="580" width="8" height="1" fill="#ff5252"/>
<rect x="1098" y="580" width="7" height="1" fill="#fccbcd"/>
<rect x="1106" y="580" width="8" height="1" fill="#fccbcd"/>
<rect x="1115" y="580" width="7" height="1" fill="#ff5252"/>
<rect x="1123" y="579" width="8" height="2" fill="#22ab94"/>
<rect x="1132" y="579" width="7" height="2" fill="#22ab94"/>
<rect x="1140" y="579" width="8" height="2" fill="#22ab94"/>
<rect x="1149" y="580" width="7" height="1" fill="#ace5dc"/>
<rect x="1157" y="580" width="8" height="1" fill="#ace5dc"/>
<rect x="1166" y="580" width="7" height="2" fill="#ff5252"/>
<rect x="1174" y="580" width="8" height="7" fill="#ff5252"/>
<rect x="1183" y="580" width="7" height="10" fill="#ff5252"/>
<rect x="1191" y="580" width="8" height="13" fill="#ff5252"/>
<rect x="1200" y="580" width="7" height="15" fill="#ff5252"/>
<rect x="1208" y="580" width="8" height="18" fill="#ff5252"/>
<rect x="1217" y="580" width="7" height="19" fill="#ff5252"/>
<rect x="1225" y="580" width="7" height="19" fill="#ff5252"/>
<rect x="1233" y="580" width="8" height="20" fill="#ff5252"/>
<rect x="1242" y="580" width="7" height="23" fill="#ff5252"/>
<rect x="1250" y="580" width="8" height="27" fill="#ff5252"/>
<rect x="1259" y="580" width="7" height="29" fill="#ff5252"/>
<rect x="1267" y="580" width="8" height="29" fill="#fccbcd"/>
<rect x="1276" y="580" width="7" height="28" fill="#fccbcd"/>
<rect x="1284" y="580" width="8" height="26" fill="#fccbcd"/>
<rect x="1293" y="580" width="7" height="25" fill="#fccbcd"/>
<rect x="1301" y="580" width="8" height="24" fill="#fccbcd"/>
<rect x="1310" y="580" width="7" height="25" fill="#ff5252"/>
<rect x="1318" y="580" width="8" height="28" fill="#ff5252"/>
<rect x="1327" y="580" width="7" height="27" fill="#fccbcd"/>
<rect x="1335" y="580" width="8" height="20" fill="#fccbcd"/>
<rect x="1344" y="580" width="7" height="12" fill="#fccbcd"/>
<rect x="1352" y="580" width="8" height="7" fill="#fccbcd"/>
<rect x="1361" y="580" width="7" height="2" fill="#fccbcd"/>
<rect x="1369" y="575" width="8" height="6" fill="#22ab94"/>
<rect x="1378" y="573" width="7" height="8" fill="#22ab94"/>
<rect x="1386" y="569" width="8" height="12" fill="#22ab94"/>
<rect x="1395" y="566" width="7" height="15" fill="#22ab94"/>
<rect x="1403" y="564" width="7" height="17" fill="#22ab94"/>
<rect x="1411" y="564" width="8" height="17" fill="#22ab94"/>
<rect x="1420" y="563" width="7" height="18" fill="#22ab94"/>
<rect x="1428" y="563" width="8" height="18" fill="#22ab94"/>
<rect x="1437" y="562" width="7" height="19" fill="#22ab94"/>
<rect x="1445" y="563" width="8" height="18" fill="#ace5dc"/>
<rect x="1454" y="563" width="7" height="18" fill="#ace5dc"/>
<rect x="1462" y="563" width="8" height="18" fill="#ace5dc"/>
<rect x="1471" y="563" width="7" height="18" fill="#22ab94"/>
<rect x="1479" y="562" width="8" height="19" fill="#22ab94"/>
<rect x="1488" y="561" width="7" height="20" fill="#22ab94"/>
<rect x="1496" y="565" width="8" height="16" fill="#ace5dc"/>
<rect x="1505" y="570" width="7" height="11" fill="#ace5dc"/>
<rect x="1513" y="574" width="8" height="7" fill="#ace5dc"/>
<rect x="1522" y="579" width="7" height="2" fill="#ace5dc"/>
</g>
<polyline points="8.5,580.5 16.5,581.5 25.5,581.4 33.5,579.0 42.5,576.2 50.5,575.2 59.5,574.3 67.5,571.9 76.5,570.4 84.5,569.4 93.5,569.4 101.5,569.4 110.5,569.3 118.5,569.1 127.5,569.1 135.5,571.0 144.5,571.6 152.5,572.3 161.5,572.9 169.5,573.2 178.5,573.1 186.5,572.9 194.5,574.7 203.5,576.4 211.5,577.0 220.5,577.7 228.5,578.5 237.5,577.4 245.5,574.0 254.5,570.4 262.5,568.2 271.5,567.2 279.5,566.0 288.5,565.0 296.5,562.9 305.5,560.8 313.5,558.9 322.5,556.9 330.5,553.9 339.5,551.8 347.5,551.3 356.5,551.8 364.5,555.5 372.5,560.4 381.5,563.1 389.5,566.0 398.5,569.0 406.5,570.9 415.5,573.0 423.5,576.2 432.5,578.9 440.5,580.7 449.5,582.6 457.5,583.8 466.5,584.8 474.5,585.6 483.5,584.5 491.5,581.9 500.5,581.0 508.5,582.3 517.5,583.0 525.5,583.8 533.5,585.0 542.5,586.5 550.5,587.5 559.5,588.6 567.5,588.6 576.5,587.1 584.5,585.3 593.5,583.8 601.5,581.5 610.5,579.2 618.5,578.0 627.5,576.2 635.5,577.0 644.5,577.7 652.5,578.8 661.5,578.9 669.5,578.9 678.5,578.9 686.5,577.7 695.5,576.2 703.5,574.0 711.5,570.9 720.5,564.9 728.5,561.9 737.5,561.4 745.5,564.7 754.5,567.3 762.5,568.9 771.5,568.8 779.5,567.4 788.5,565.0 796.5,562.0 805.5,559.7 813.5,557.5 822.5,554.9 830.5,552.2 839.5,549.3 847.5,546.6 856.5,545.1 864.5,544.6 873.5,543.9 881.5,543.1 889.5,541.6 898.5,539.8 906.5,538.8 915.5,539.1 923.5,540.9 932.5,540.7 940.5,541.0 949.5,544.3 957.5,544.8 966.5,545.8 974.5,549.6 983.5,551.1 991.5,551.6 1000.5,551.1 1008.5,551.4 1017.5,552.6 1025.5,553.7 1034.5,554.1 1042.5,554.9 1050.5,554.4 1059.5,553.1 1067.5,552.5 1076.5,552.3 1084.5,552.5 1093.5,552.9 1101.5,552.9 1110.5,552.9 1118.5,552.9 1127.5,551.4 1135.5,550.8 1144.5,550.4 1152.5,551.1 1161.5,551.4 1169.5,553.4 1178.5,559.4 1186.5,565.9 1195.5,572.3 1203.5,578.3 1212.5,585.8 1220.5,591.0 1228.5,596.2 1237.5,601.3 1245.5,609.9 1254.5,619.4 1262.5,629.2 1271.5,635.8 1279.5,640.6 1288.5,644.7 1296.5,650.0 1305.5,654.7 1313.5,662.4 1322.5,671.1 1330.5,677.6 1339.5,675.0 1347.5,669.7 1356.5,666.4 1364.5,660.7 1373.5,654.4 1381.5,650.0 1390.5,643.3 1398.5,637.0 1406.5,631.2 1415.5,626.8 1423.5,622.6 1432.5,617.5 1440.5,612.2 1449.5,609.3 1457.5,605.3 1466.5,601.3 1474.5,596.3 1483.5,590.9 1491.5,585.4 1500.5,585.8 1508.5,589.0 1517.5,590.8 1525.5,595.9" fill="none" stroke="#2196f3" stroke-width="1.2" stroke-linejoin="round"/>
<polyline points="8.5,577.4 16.5,578.5 25.5,579.1 33.5,578.8 42.5,578.2 50.5,577.6 59.5,577.1 67.5,575.9 76.5,574.7 84.5,573.7 93.5,572.8 101.5,572.2 110.5,571.6 118.5,571.1 127.5,570.8 135.5,570.8 144.5,571.0 152.5,571.3 161.5,571.7 169.5,572.0 178.5,572.3 186.5,572.5 194.5,572.9 203.5,573.7 211.5,574.3 220.5,575.0 228.5,575.8 237.5,576.4 245.5,575.9 254.5,574.9 262.5,573.2 271.5,572.0 279.5,570.8 288.5,569.6 296.5,568.2 305.5,566.7 313.5,565.2 322.5,563.4 330.5,561.4 339.5,559.6 347.5,557.8 356.5,556.6 364.5,556.3 372.5,557.2 381.5,558.4 389.5,560.1 398.5,561.9 406.5,563.7 415.5,565.5 423.5,567.8 432.5,569.9 440.5,572.1 449.5,574.3 457.5,576.2 466.5,577.9 474.5,579.4 483.5,580.3 491.5,580.7 500.5,580.7 508.5,581.0 517.5,581.5 525.5,581.9 533.5,582.6 542.5,583.3 550.5,584.1 559.5,585.0 567.5,585.7 576.5,586.0 584.5,585.9 593.5,585.4 601.5,584.8 610.5,583.8 618.5,582.6 627.5,581.2 635.5,580.4 644.5,580.0 652.5,579.7 661.5,579.5 669.5,579.4 678.5,579.4 686.5,579.1 695.5,578.6 703.5,577.6 711.5,576.2 720.5,574.0 728.5,571.4 737.5,569.7 745.5,568.5 754.5,568.3 762.5,568.3 771.5,568.3 779.5,568.2 788.5,567.4 796.5,566.2 805.5,565.0 813.5,563.7 822.5,561.8 830.5,559.9 839.5,557.8 847.5,555.4 856.5,553.4 864.5,551.6 873.5,550.1 881.5,548.6 889.5,547.1 898.5,545.7 906.5,544.3 915.5,543.3 923.5,542.8 932.5,542.4 940.5,542.1 949.5,542.5 957.5,543.1 966.5,543.7 974.5,545.1 983.5,546.3 991.5,547.4 1000.5,548.1 1008.5,548.9 1017.5,549.6 1025.5,550.4 1034.5,551.1 1042.5,551.9 1050.5,552.5 1059.5,552.6 1067.5,552.6 1076.5,552.5 1084.5,552.5 1093.5,552.6 1101.5,552.6 1110.5,552.6 1118.5,552.8 1127.5,552.5 1135.5,552.2 1144.5,551.7 1152.5,551.6 1161.5,551.6 1169.5,552.0 1178.5,553.4 1186.5,556.0 1195.5,559.0 1203.5,562.9 1212.5,568.1 1220.5,572.9 1228.5,577.2 1237.5,582.0 1245.5,587.5 1254.5,593.6 1262.5,601.0 1271.5,607.3 1279.5,614.6 1288.5,620.6 1296.5,626.8 1305.5,632.3 1313.5,638.3 1322.5,644.7 1330.5,651.3 1339.5,655.9 1347.5,658.7 1356.5,660.2 1364.5,660.4 1373.5,659.3 1381.5,657.5 1390.5,654.4 1398.5,650.9 1406.5,647.2 1415.5,643.0 1423.5,639.1 1432.5,634.8 1440.5,630.6 1449.5,626.6 1457.5,622.7 1466.5,618.3 1474.5,613.9 1483.5,608.8 1491.5,604.2 1500.5,600.7 1508.5,598.3 1517.5,596.7 1525.5,596.5" fill="none" stroke="#ff6d00" stroke-width="1.2" stroke-linejoin="round"/>
</g>
<text x="1667.5" y="31.8" fill="#131722" textLength="35" lengthAdjust="spacingAndGlyphs">100.00</text>
<text x="1667.5" y="65.8" fill="#131722" textLength="29" lengthAdjust="spacingAndGlyphs">98.00</text>
<text x="1667.5" y="100.8" fill="#131722" textLength="29" lengthAdjust="spacingAndGlyphs">96.00</text>
<text x="1667.5" y="135.8" fill="#131722" textLength="29" lengthAdjust="spacingAndGlyphs">94.00</text>
<text x="1667.5" y="170.8" fill="#131722" textLength="29" lengthAdjust="spacingAndGlyphs">92.00</text>
<text x="1667.5" y="204.5" fill="#131722" textLength="29" lengthAdjust="spacingAndGlyphs">90.00</text>
<text x="1667.5" y="240.8" fill="#131722" textLength="29" lengthAdjust="spacingAndGlyphs">88.00</text>
<text x="1667.5" y="275.1" fill="#131722" textLength="29" lengthAdjust="spacingAndGlyphs">86.00</text>
<text x="1667.5" y="310.0" fill="#131722" textLength="29" lengthAdjust="spacingAndGlyphs">84.00</text>
<text x="1667.5" y="345.0" fill="#131722" textLength="29" lengthAdjust="spacingAndGlyphs">82.00</text>
<text x="1667.5" y="366.0" fill="#131722" textLength="29" lengthAdjust="spacingAndGlyphs">80.00</text>
<text x="1667.5" y="406.0" fill="#131722" textLength="29" lengthAdjust="spacingAndGlyphs">60.00</text>
<text x="1667.5" y="445.8" fill="#131722" textLength="29" lengthAdjust="spacingAndGlyphs">40.00</text>
<text x="1667.5" y="485.8" fill="#131722" textLength="29" lengthAdjust="spacingAndGlyphs">20.00</text>
<text x="1667.8" y="547.3" fill="#131722" textLength="22.3" lengthAdjust="spacingAndGlyphs">1.00</text>
<text x="1667.6" y="658.8" fill="#131722" textLength="28.4" lengthAdjust="spacingAndGlyphs">−2.00</text>
<path d="M1659 131H1700a2 2 0 0 1 2 2V146a2 2 0 0 1 -2 2H1659Z" fill="#2196f3"/>
<text x="1667.2" y="143.8" fill="#fff" font-weight="bold" textLength="29.3" lengthAdjust="spacingAndGlyphs">93.54</text>
<path d="M1659 156H1700a2 2 0 0 1 2 2V171a2 2 0 0 1 -2 2H1659Z" fill="#26c6da"/>
<text x="1667.4" y="168.8" fill="#131722" textLength="29.0" lengthAdjust="spacingAndGlyphs">92.10</text>
<path d="M1659 199H1700a2 2 0 0 1 2 2V214a2 2 0 0 1 -2 2H1659Z" fill="#ff6d00"/>
<text x="1667.2" y="211.8" fill="#fff" font-weight="bold" textLength="29.3" lengthAdjust="spacingAndGlyphs">89.64</text>
<path d="M1659 230H1700a2 2 0 0 1 2 2V245a2 2 0 0 1 -2 2H1659Z" fill="#f23645"/>
<text x="1667.2" y="242.8" fill="#fff" font-weight="bold" textLength="29.3" lengthAdjust="spacingAndGlyphs">87.86</text>
<path d="M1659 441H1700a2 2 0 0 1 2 2V456a2 2 0 0 1 -2 2H1659Z" fill="#7e57c2"/>
<text x="1667.2" y="453.8" fill="#fff" font-weight="bold" textLength="29.5" lengthAdjust="spacingAndGlyphs">35.96</text>
<path d="M1659 571H1694a2 2 0 0 1 2 2V586a2 2 0 0 1 -2 2H1659Z" fill="#ace5dc"/>
<text x="1667.4" y="583.8" fill="#131722" textLength="22.4" lengthAdjust="spacingAndGlyphs">0.02</text>
<path d="M1659 588H1700a2 2 0 0 1 2 2V603a2 2 0 0 1 -2 2H1659Z" fill="#2196f3"/>
<text x="1667.6" y="600.8" fill="#fff" font-weight="bold" textLength="28.4" lengthAdjust="spacingAndGlyphs">−0.43</text>
<path d="M1659 605H1700a2 2 0 0 1 2 2V620a2 2 0 0 1 -2 2H1659Z" fill="#ff6d00"/>
<text x="1667.6" y="617.8" fill="#fff" font-weight="bold" textLength="28.4" lengthAdjust="spacingAndGlyphs">−0.45</text>
<text x="18.1" y="28.6" fill="#131722" textLength="95.5" lengthAdjust="spacingAndGlyphs">NZD/JPY Spot, 1D</text>
<text x="121.6" y="28.6" fill="#131722" textLength="7.6" lengthAdjust="spacingAndGlyphs">O</text>
<text x="129.5" y="28.6" fill="#f23645" textLength="29.3" lengthAdjust="spacingAndGlyphs">89.27</text>
<text x="166.5" y="28.6" fill="#131722" textLength="7.1" lengthAdjust="spacingAndGlyphs">H</text>
<text x="174.1" y="28.6" fill="#f23645" textLength="28.9" lengthAdjust="spacingAndGlyphs">89.42</text>
<text x="211.4" y="28.6" fill="#131722" textLength="5.6" lengthAdjust="spacingAndGlyphs">L</text>
<text x="217.3" y="28.6" fill="#f23645" textLength="28.9" lengthAdjust="spacingAndGlyphs">87.70</text>
<text x="254.2" y="28.6" fill="#131722" textLength="6.6" lengthAdjust="spacingAndGlyphs">C</text>
<text x="261.1" y="28.6" fill="#f23645" textLength="28.6" lengthAdjust="spacingAndGlyphs">87.86</text>
<text x="298.1" y="28.6" fill="#f23645" textLength="28.8" lengthAdjust="spacingAndGlyphs">−1.40</text>
<text x="332" y="28.6" fill="#f23645" textLength="44.4" lengthAdjust="spacingAndGlyphs">(−1.57%)</text>
<text x="18.1" y="45.7" fill="#131722" textLength="238.9" lengthAdjust="spacingAndGlyphs">Moving Average Triple (20, 100, 200, Simple)</text>
<text x="265.3" y="45.7" fill="#ff6d00" textLength="28.9" lengthAdjust="spacingAndGlyphs">89.64</text>
<text x="302.2" y="45.7" fill="#2196f3" textLength="28.6" lengthAdjust="spacingAndGlyphs">93.54</text>
<text x="338.8" y="45.7" fill="#26c6da" textLength="28.9" lengthAdjust="spacingAndGlyphs">92.10</text>
<text x="18.3" y="370" fill="#131722" textLength="40.2" lengthAdjust="spacingAndGlyphs">RSI (14)</text>
<text x="66.7" y="370" fill="#7e57c2" textLength="28.9" lengthAdjust="spacingAndGlyphs">35.96</text>
<text x="17.9" y="541" fill="#131722" textLength="124.7" lengthAdjust="spacingAndGlyphs">MACD (12, 26, close, 9)</text>
<text x="151" y="541" fill="#ace5dc" textLength="23.0" lengthAdjust="spacingAndGlyphs">0.02</text>
<text x="181.8" y="541" fill="#2196f3" textLength="28.4" lengthAdjust="spacingAndGlyphs">−0.43</text>
<text x="218.7" y="541" fill="#ff6d00" textLength="28.6" lengthAdjust="spacingAndGlyphs">−0.45</text>
<defs><clipPath id="tc"><rect x="11" y="692" width="1701" height="27"/></clipPath></defs>
<g clip-path="url(#tc)" text-anchor="middle">
<text x="8.6" y="710.2" fill="#131722" textLength="25.6" lengthAdjust="spacingAndGlyphs">2024</text>
<text x="93.2" y="710.2" fill="#131722" textLength="12.2" lengthAdjust="spacingAndGlyphs">15</text>
<text x="203.1" y="710.2" fill="#131722" textLength="19.5" lengthAdjust="spacingAndGlyphs">Feb</text>
<text x="288.1" y="710.2" fill="#131722" textLength="12.2" lengthAdjust="spacingAndGlyphs">15</text>
<text x="381.1" y="710.2" fill="#131722" textLength="19.9" lengthAdjust="spacingAndGlyphs">Mar</text>
<text x="466.1" y="710.2" fill="#131722" textLength="12.2" lengthAdjust="spacingAndGlyphs">15</text>
<text x="559.1" y="710.2" fill="#131722" textLength="19.2" lengthAdjust="spacingAndGlyphs">Apr</text>
<text x="644.0" y="710.2" fill="#131722" textLength="12.2" lengthAdjust="spacingAndGlyphs">15</text>
<text x="745.2" y="710.2" fill="#131722" textLength="21.6" lengthAdjust="spacingAndGlyphs">May</text>
<text x="830.1" y="710.2" fill="#131722" textLength="12.2" lengthAdjust="spacingAndGlyphs">15</text>
<text x="940.2" y="710.2" fill="#131722" textLength="18.8" lengthAdjust="spacingAndGlyphs">Jun</text>
<text x="1025.1" y="710.2" fill="#131722" textLength="11.9" lengthAdjust="spacingAndGlyphs">17</text>
<text x="1110.0" y="710.2" fill="#131722" textLength="15.7" lengthAdjust="spacingAndGlyphs">Jul</text>
<text x="1194.8" y="710.2" fill="#131722" textLength="12.0" lengthAdjust="spacingAndGlyphs">15</text>
<text x="1304.9" y="710.2" fill="#131722" textLength="20.3" lengthAdjust="spacingAndGlyphs">Aug</text>
<text x="1389.6" y="710.2" fill="#131722" textLength="12.0" lengthAdjust="spacingAndGlyphs">15</text>
<text x="1491.0" y="710.2" fill="#131722" textLength="18.9" lengthAdjust="spacingAndGlyphs">Sep</text>
<text x="1575.9" y="710.2" fill="#131722" textLength="11.8" lengthAdjust="spacingAndGlyphs">13</text>
</g>
<g fill="#131722"><path d="M10.1 732.3H18.1V741.7H13.9V735.9H10.1Z"/><circle cx="20.95" cy="734.2" r="2.05"/><path d="M24.15 732.3H29.3L25.75 741.7H21.3Z"/></g>
<text x="33.1" y="741.7" font-size="13" fill="#131722" textLength="69.9" lengthAdjust="spacingAndGlyphs">TradingView</text>
</svg>
</body></html>
